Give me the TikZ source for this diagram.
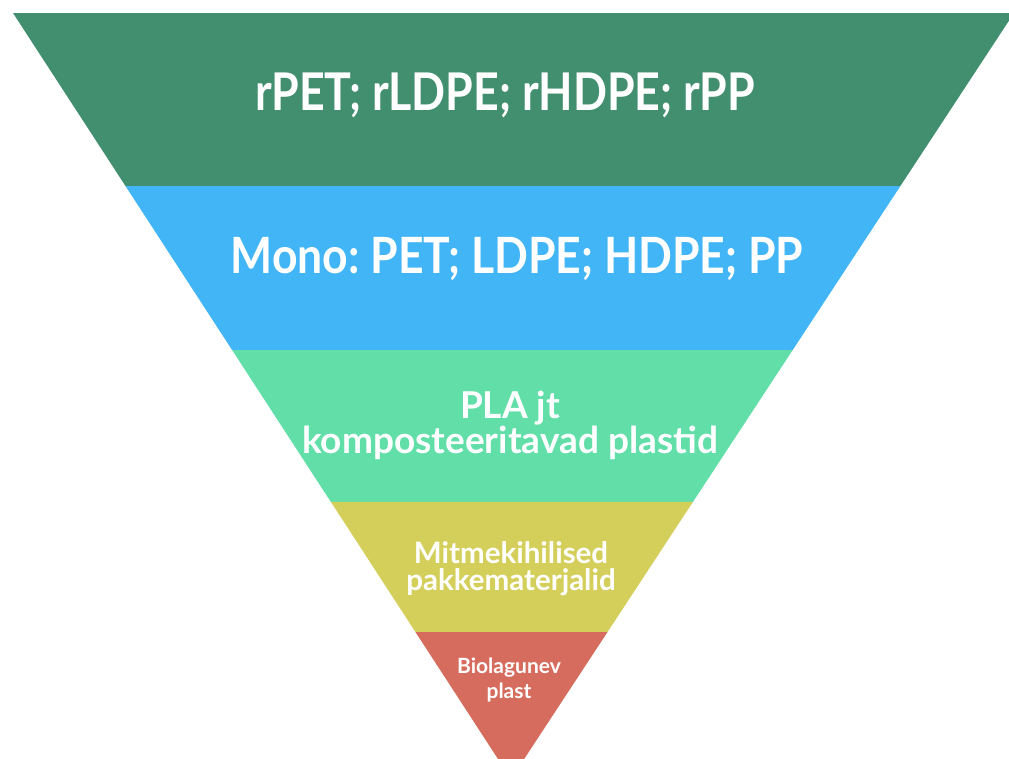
\documentclass[tikz,border=0pt]{standalone}
\usepackage{fontspec}
\setmainfont{Lato}
\frenchspacing
\usetikzlibrary{calc}
\definecolor{c1}{HTML}{418F6E}
\definecolor{c2}{HTML}{41B5F6}
\definecolor{c3}{HTML}{62DEA8}
\definecolor{c4}{HTML}{D4CE5A}
\definecolor{c5}{HTML}{D66C5E}
\tikzset{lbl/.style={text=white,font=\bfseries,align=center,inner sep=0pt}}
\begin{document}
\begin{tikzpicture}[x=1pt,y=-1pt]
\useasboundingbox (0,0) rectangle (1009,758);
\begin{scope}
\clip (0,0) rectangle (1009,758);
\coordinate (tl) at (13,13);
\coordinate (tr) at (1014,13);
\coordinate (ap) at (511,779);
\foreach \ya/\yb/\col in {13/186/c1,186/350/c2,350/502/c3,502/632/c4,632/779/c5}{
  \fill[\col] ($(tl)!{(\ya-13)/766}!(ap)$) -- ($(tr)!{(\ya-13)/766}!(ap)$) -- ($(tr)!{(\yb-13)/766}!(ap)$) -- ($(tl)!{(\yb-13)/766}!(ap)$) -- cycle;
}
\end{scope}
\node[lbl,font=\bfseries\fontsize{52}{52}\selectfont] (t1) at (505,95) {\scalebox{0.86}[1]{rPET; rLDPE; rHDPE; rPP}};
\node[lbl,font=\bfseries\fontsize{50}{50}\selectfont] (t2) at (517,259) {\scalebox{0.89}[1]{Mono: PET; LDPE; HDPE; PP}};
\node[lbl,font=\bfseries\fontsize{37}{35}\selectfont] (t3) at (510,425) {PLA jt\\komposteeritavad plastid};
\node[lbl,font=\bfseries\fontsize{29.5}{27}\selectfont] (t4) at (511,569) {Mitmekihilised\\pakkematerjalid};
\node[lbl,font=\bfseries\fontsize{21}{25}\selectfont] (t5) at (509,680) {Biolagunev\\plast};
\end{tikzpicture}
\end{document}
